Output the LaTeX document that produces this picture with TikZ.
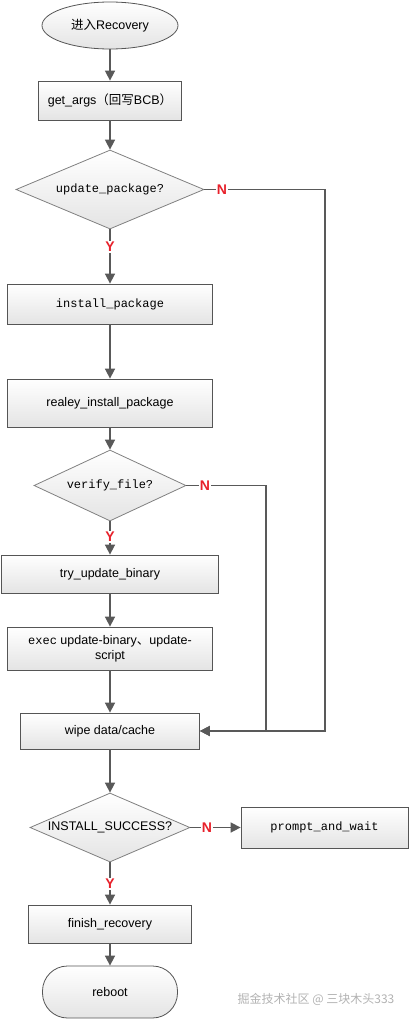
\documentclass[tikz,border=0pt]{standalone}
\usepackage{fontspec}
\setmainfont{Liberation Sans}
\newfontfamily\monof{Liberation Mono}
\newfontfamily\cjk{Noto Sans CJK SC}
\usetikzlibrary{shapes.geometric,arrows.meta}
\definecolor{linec}{HTML}{595959}
\definecolor{boxc}{HTML}{555555}
\definecolor{diac}{HTML}{808080}
\definecolor{shadec}{HTML}{E4E4E4}
\definecolor{yn}{HTML}{E8202A}
\begin{document}
\begin{tikzpicture}[x=1pt,y=-1pt,
  box/.style={draw=boxc, line width=0.8pt, top color=white, bottom color=shadec, inner sep=0pt, font=\fontsize{12.5}{15}\selectfont},
  dia/.style={diamond, draw=diac, line width=0.8pt, top color=white, bottom color=shadec, inner sep=0pt},
  sansf/.style={font=\fontsize{12.5}{15}\selectfont},
  monot/.style={font=\monof\fontsize{12}{14}\selectfont},
  flow/.style={draw=linec, line width=1.6pt, -{Triangle[length=10pt,width=10pt]}},
  plain/.style={draw=linec, line width=1.6pt},
  lab/.style={text=yn, font=\bfseries\fontsize{14}{14}\selectfont, fill=white, inner sep=1pt}
]
\useasboundingbox (0,0) rectangle (409,1020);

\node[box, ellipse, minimum width=136pt, minimum height=47pt] (start) at (110,25.5) {{\cjk 进入}Recovery};
\node[box, minimum width=143pt, minimum height=39pt] (args) at (110,100.5) {get\_args{\cjk （回写}BCB{\cjk ）}};
\node[dia, aspect=2.38, minimum width=188pt, minimum height=79pt, monot] (d1) at (110,189.5) {update\_package?};
\node[box, minimum width=205pt, minimum height=40pt, monot] (inst) at (110,304) {install\_package};
\node[box, minimum width=205pt, minimum height=48pt] (realey) at (110,403) {realey\_install\_package};
\node[dia, aspect=2.14, minimum width=152pt, minimum height=71pt, monot] (d2) at (110,485.5) {verify\_file?};
\node[box, minimum width=217pt, minimum height=38pt] (try) at (110,574) {try\_update\_binary};
\node[box, minimum width=205pt, minimum height=43pt, align=center] (exec) at (110,648.5) {{\monof\fontsize{12}{14}\selectfont exec} update-binary{\cjk 、}update-\\script};
\node[box, minimum width=179pt, minimum height=36pt] (wipe) at (110,731) {wipe data/cache};
\node[dia, aspect=2.32, minimum width=160pt, minimum height=69pt, sansf] (d3) at (110,827.5) {INSTALL\_SUCCESS?};
\node[box, minimum width=167pt, minimum height=41pt, monot] (prompt) at (324.5,827.5) {prompt\_and\_wait};
\node[box, minimum width=163pt, minimum height=38pt] (finish) at (110,924) {finish\_recovery};
\node[box, rounded corners=25pt, minimum width=135pt, minimum height=52pt] (reboot) at (110,992) {reboot};

\node[lab] (y1) at (110,247) {Y};
\node[lab] (n1) at (222,189.5) {N};
\node[lab] (n2) at (205,485.5) {N};
\node[lab] (y2) at (110,537) {Y};
\node[lab] (n3) at (207,827.5) {N};
\node[lab] (y3) at (110,884) {Y};

\coordinate (c1) at (325,189.5);
\coordinate (c2) at (266,485.5);

\draw[flow] (start) -- (args);
\draw[flow] (args) -- (d1);
\draw[plain] (d1.south) -- (y1);
\draw[flow] (y1) -- (inst);
\draw[flow] (inst) -- (realey);
\draw[flow] (realey) -- (d2);
\draw[plain] (d2.south) -- (y2);
\draw[flow] (y2) -- (try);
\draw[flow] (try) -- (exec);
\draw[flow] (exec) -- (wipe);
\draw[flow] (wipe) -- (d3);
\draw[plain] (d3.south) -- (y3);
\draw[flow] (y3) -- (finish);
\draw[flow] (finish) -- (reboot);
\draw[plain] (d1.east) -- (n1);
\draw[flow] (n1) -- (c1) |- (wipe.east);
\draw[plain] (d2.east) -- (n2);
\draw[flow] (n2) -- (c2) |- (wipe.east);
\draw[plain] (d3.east) -- (n3);
\draw[flow] (n3) -- (prompt);

\node[text=gray!60, font=\cjk\fontsize{12}{12}\selectfont] (wm) at (316,999) {掘金技术社区 @ 三块木头333};
\end{tikzpicture}
\end{document}
